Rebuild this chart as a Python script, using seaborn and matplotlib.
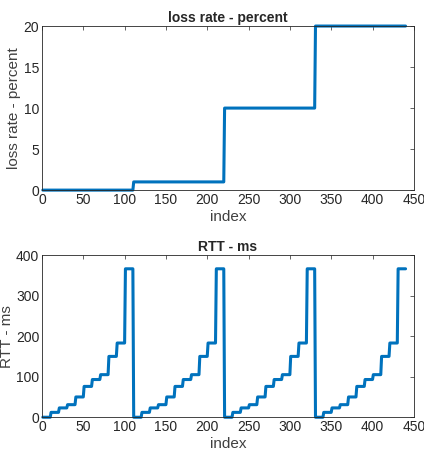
import numpy as np
import pandas as pd
import matplotlib
matplotlib.use("Agg")
import matplotlib.pyplot as plt
import seaborn as sns

# step levels (10 samples per RTT level, 110 per loss level)
loss_levels = [0, 1, 10, 20]
loss_samples = 110
rtt_levels = [0, 12, 23, 31, 50, 76, 93, 105, 150, 183, 366]
rtt_samples = 10
n_periods = 4

loss = np.repeat(loss_levels, loss_samples)
rtt = np.tile(np.repeat(rtt_levels, rtt_samples), n_periods)
df = pd.DataFrame({
    "index": np.arange(1, len(loss) + 1),
    "loss": loss,
    "rtt": rtt,
})

sns.set_theme(style="white")
plt.rcParams.update({
    'font.family': ['Liberation Sans', 'DejaVu Sans'],
    'axes.edgecolor': '#262626',
    'axes.linewidth': 0.6,
    'xtick.color': '#262626',
    'ytick.color': '#262626',
    'xtick.direction': 'in',
    'ytick.direction': 'in',
    'xtick.top': True,
    'ytick.right': True,
})

blue = '#0072BD'
fig = plt.figure(figsize=(4.24, 4.57), dpi=100)
ax1 = fig.add_axes([0.099, 0.584, 0.877, 0.359])
ax2 = fig.add_axes([0.099, 0.087, 0.877, 0.355])

sns.lineplot(data=df, x="index", y="loss", color=blue, linewidth=2.2, ax=ax1)
ax1.set_ylim(0, 20)
ax1.set_yticks([0, 5, 10, 15, 20])
ax1.set_title("loss rate - percent", fontsize=10, fontweight='bold', pad=3)
ax1.set_ylabel("loss rate - percent", fontsize=11, color='#404040', labelpad=2)

sns.lineplot(data=df, x="index", y="rtt", color=blue, linewidth=2.2, ax=ax2)
ax2.set_ylim(0, 400)
ax2.set_yticks([0, 100, 200, 300, 400])
ax2.set_title("RTT - ms", fontsize=10, fontweight='bold', pad=3)
ax2.set_ylabel("RTT - ms", fontsize=11, color='#404040', labelpad=1)

for ax in (ax1, ax2):
    ax.set_xlim(0, 450)
    ax.set_xticks(np.arange(0, 451, 50))
    ax.set_xlabel("index", fontsize=11, color='#404040', labelpad=2)
    ax.tick_params(labelsize=10, length=3, width=0.5, pad=2)
    for line in ax.lines:
        line.set_clip_on(False)
    for s in ax.spines.values():
        s.set_visible(True)

fig.savefig("out.png", dpi=100)
